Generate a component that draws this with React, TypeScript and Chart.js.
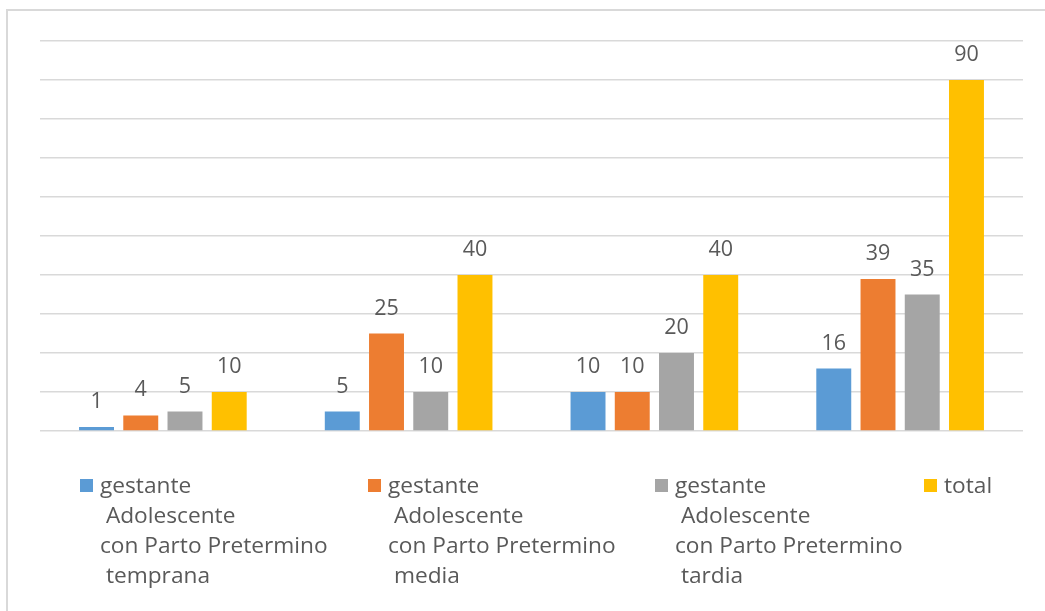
import React, { useEffect, useRef } from "react";
import { Chart, registerables } from "chart.js";

Chart.register(...registerables);

const categories = ["Grupo 1", "Grupo 2", "Grupo 3", "Grupo 4"];
const seriesNames: string[][] = [
  ["gestante", " Adolescente", "con Parto Pretermino", " temprana"],
  ["gestante", " Adolescente", "con Parto Pretermino", " media"],
  ["gestante", " Adolescente", "con Parto Pretermino", " tardia"],
  ["total"],
];
const temprana = [1, 5, 10, 16];
const media = [4, 25, 10, 39];
const tardia = [5, 10, 20, 35];
const total = [10, 40, 40, 90];
const seriesColors = ["#5b9bd5", "#ed7d31", "#a5a5a5", "#ffc000"];
const yTicks = { min: 0, max: 100, step: 10 };

const FONT = "'Open Sans', sans-serif";
const TEXT = "#595959";

const dataLabelPlugin = {
  id: "dataLabels",
  afterDatasetsDraw(chart: any) {
    const ctx = chart.ctx;
    ctx.save();
    ctx.font = `21.5px ${FONT}`;
    ctx.fillStyle = TEXT;
    ctx.textAlign = "center";
    ctx.textBaseline = "alphabetic";
    chart.data.datasets.forEach((ds: any, i: number) => {
      const meta = chart.getDatasetMeta(i);
      meta.data.forEach((el: any, j: number) => {
        ctx.fillText(String(ds.data[j]), el.x, el.y - 19);
      });
    });
    ctx.restore();
  },
};

const legendColumns = [80, 368, 655, 924];

const customLegendPlugin = {
  id: "customLegend",
  afterDraw(chart: any) {
    const ctx = chart.ctx;
    ctx.save();
    ctx.font = `22.7px ${FONT}`;
    ctx.textBaseline = "alphabetic";
    ctx.textAlign = "left";
    chart.data.datasets.forEach((ds: any, i: number) => {
      const x = legendColumns[i];
      ctx.fillStyle = ds.backgroundColor;
      ctx.fillRect(x, 479, 13, 13);
      ctx.fillStyle = TEXT;
      const lines: string[] = ds.legendLines;
      lines.forEach((line, k) => {
        ctx.fillText(line, x + 20, 493 + k * 30);
      });
    });
    ctx.restore();
  },
};

export default function App() {
  const ref = useRef<HTMLCanvasElement | null>(null);
  useEffect(() => {
    if (!ref.current) return;
    const allSeries = [temprana, media, tardia, total];
    const chart = new Chart(ref.current, {
      type: "bar",
      data: {
        labels: categories,
        datasets: allSeries.map((d, i) => ({
          label: seriesNames[i].join(" "),
          legendLines: seriesNames[i],
          data: d,
          backgroundColor: seriesColors[i],
          borderWidth: 0,
          categoryPercentage: 0.72,
          barPercentage: 0.79,
        })) as any,
      },
      options: {
        animation: false,
        responsive: false,
        maintainAspectRatio: false,
        layout: { padding: { left: 40, right: 22, top: 41, bottom: 180 } },
        plugins: {
          legend: { display: false },
          tooltip: { enabled: false },
        },
        scales: {
          x: { display: false },
          y: {
            min: yTicks.min,
            max: yTicks.max,
            ticks: { stepSize: yTicks.step, display: false },
            grid: { color: "#d9d9d9", lineWidth: 1.5, drawTicks: false },
            border: { display: false },
          },
        },
      },
      plugins: [dataLabelPlugin, customLegendPlugin],
    });
    return () => chart.destroy();
  }, []);

  return (
    <div
      style={{
        position: "absolute",
        left: 0,
        top: 0,
        width: 1045,
        height: 611,
        background: "#ffffff",
        overflow: "hidden",
      }}
    >
      <div
        style={{
          position: "absolute",
          left: 6,
          top: 9,
          width: 1045,
          height: 611,
          borderTop: "2px solid #d9d9d9",
          borderLeft: "2px solid #d9d9d9",
        }}
      />
      <canvas
        ref={ref}
        width={1045}
        height={611}
        style={{ position: "absolute", left: 0, top: 0, width: 1045, height: 611 }}
      />
    </div>
  );
}
